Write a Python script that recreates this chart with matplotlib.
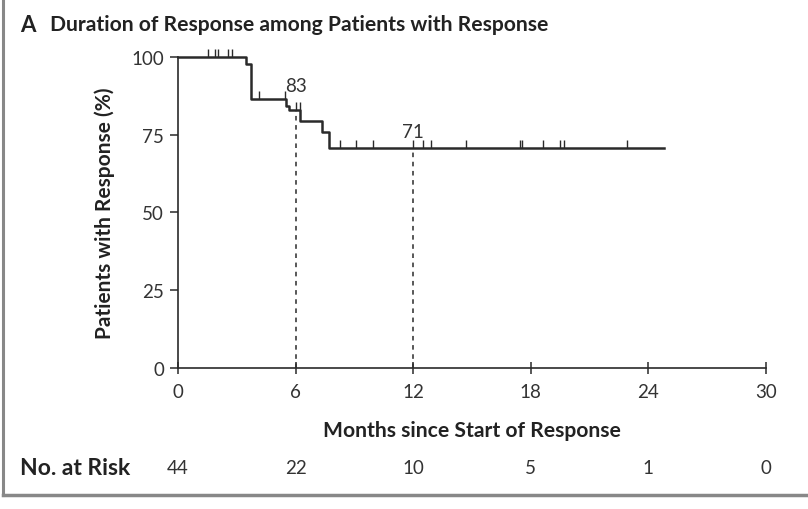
import numpy as np
import matplotlib.pyplot as plt
from matplotlib.lines import Line2D

# --- Kaplan-Meier data (months, % with ongoing response) ---
event_months = [3.45, 3.7, 5.5, 5.65, 6.25, 7.35, 7.72]
event_levels = [97.7, 86.4, 84.3, 83.1, 79.4, 75.9, 70.8]
last_followup = 24.8
censor_months = [1.53, 1.89, 2.04, 2.55, 2.76, 4.15, 5.48, 6.0, 6.2,
                 8.27, 9.08, 9.95, 12.0, 12.5, 12.9, 14.7, 17.45, 17.55,
                 18.6, 19.5, 19.7, 22.9]
marked_months = [6, 12]

risk_months = [0, 6, 12, 18, 24, 30]
at_risk = [44, 22, 10, 5, 1, 0]

times = np.array([0] + event_months + [last_followup])
levels = np.array([100] + event_levels + [event_levels[-1]])


def level_at(t):
    idx = np.searchsorted(times, t, side="right") - 1
    return levels[idx]


plt.rcParams["font.family"] = ["Lato", "DejaVu Sans"]
ink = "#2a2a2a"
num_kw = dict(fontsize=13.5, fontweight="normal", color="#333333")

fig = plt.figure(figsize=(8.08, 5.10), dpi=100)
ax = fig.add_axes([0.2203, 0.2765, 0.7277, 0.6098])

ax.step(times, levels, where="post", color=ink, lw=1.8, clip_on=False, zorder=3)
ax.plot(censor_months, [level_at(t) for t in censor_months], ls="none",
        marker=2, markersize=5.5, mew=1.0, color=ink, clip_on=False, zorder=3)

for m in marked_months:
    lv = level_at(m)
    ax.plot([m, m], [0, lv], ls=(0, (3, 3)), color=ink, lw=1.1, zorder=2)
    offset = 5.0 if m == 6 else 2.5
    ax.text(m, lv + offset, f"{round(lv)}", ha="center", va="bottom", **num_kw)

ax.set_xlim(0, 30)
ax.set_ylim(0, 100)
ax.set_xticks(risk_months)
ax.set_yticks([0, 25, 50, 75, 100])
for s in ["top", "right"]:
    ax.spines[s].set_visible(False)
for s in ["left", "bottom"]:
    ax.spines[s].set_color(ink)
    ax.spines[s].set_linewidth(1.2)
ax.tick_params(axis="x", direction="inout", length=9, width=1.1, colors=ink, pad=6)
ax.tick_params(axis="y", direction="out", length=6, width=1.1, colors=ink, pad=4)
for lab in ax.get_xticklabels() + ax.get_yticklabels():
    lab.set(**num_kw)

ax.set_xlabel("Months since Start of Response", fontsize=15.2, fontweight="bold",
              color="#222222", labelpad=15)
ax.set_ylabel("Patients with Response (%)", fontsize=15, fontweight="bold",
              color="#222222", labelpad=12)

fig.text(20 / 808, 1 - 25 / 510, "A", fontsize=16, fontweight="bold",
         color="#222222", va="center")
fig.text(50 / 808, 1 - 25 / 510, "Duration of Response among Patients with Response",
         fontsize=15.2, fontweight="bold", color="#222222", va="center")

# number-at-risk row, aligned to the month ticks
fig.text(20 / 808, 1 - 469 / 510, "No. at Risk", fontsize=16.5, fontweight="bold",
         color="#222222", va="center")
for m, n in zip(risk_months, at_risk):
    ax.text(m, -(469 - 369) / 311, str(n), transform=ax.get_xaxis_transform(),
            ha="center", va="center", **num_kw)

# panel frame
fig.add_artist(Line2D([3 / 808, 3 / 808], [1 - 496 / 510, 1], color="#888888", lw=2.2))
fig.add_artist(Line2D([3 / 808, 1], [1 - 496 / 510, 1 - 496 / 510], color="#888888", lw=2.5))

fig.savefig("out.png", dpi=100)
